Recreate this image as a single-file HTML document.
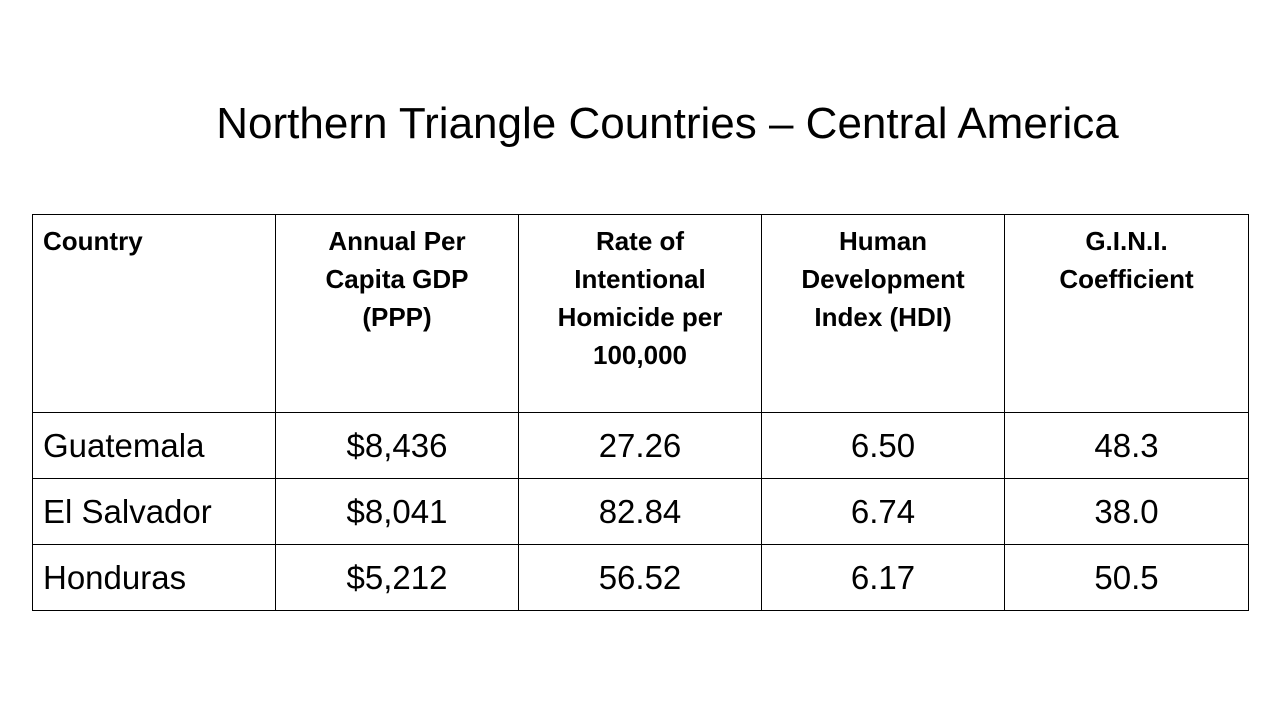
<!DOCTYPE html>
<html><head><meta charset="utf-8"><style>
html,body{margin:0;padding:0;width:1280px;height:720px;background:#fff;overflow:hidden;font-family:"Liberation Sans",sans-serif;color:#000}
h1{position:absolute;left:0;width:1335px;top:97px;margin:0;text-align:center;font-weight:normal;font-size:44px;line-height:54px;white-space:nowrap}
table{position:absolute;left:32px;top:214px;border-collapse:collapse;table-layout:fixed;width:1216px}
td{border:1.5px solid #000;padding:0 10px;vertical-align:top;white-space:nowrap}
tr.h td{height:198px;font-weight:bold;font-size:26px;line-height:38px;text-align:center;padding-top:7px;box-sizing:border-box}
tr.h td:first-child{text-align:left}
tr.b td{height:66px;font-size:33px;text-align:center;vertical-align:middle;box-sizing:border-box}
tr.b td:first-child{text-align:left}
</style></head><body>
<h1>Northern Triangle Countries – Central America</h1>
<table>
<colgroup><col style="width:243px"><col style="width:243px"><col style="width:243px"><col style="width:243px"><col style="width:244px"></colgroup>
<tr class="h">
<td>Country</td>
<td>Annual Per<br>Capita GDP<br>(PPP)</td>
<td>Rate of<br>Intentional<br>Homicide per<br>100,000</td>
<td>Human<br>Development<br>Index (HDI)</td>
<td>G.I.N.I.<br>Coefficient</td>
</tr>
<tr class="b"><td>Guatemala</td><td>$8,436</td><td>27.26</td><td>6.50</td><td>48.3</td></tr>
<tr class="b"><td>El Salvador</td><td>$8,041</td><td>82.84</td><td>6.74</td><td>38.0</td></tr>
<tr class="b"><td>Honduras</td><td>$5,212</td><td>56.52</td><td>6.17</td><td>50.5</td></tr>
</table>
</body></html>
